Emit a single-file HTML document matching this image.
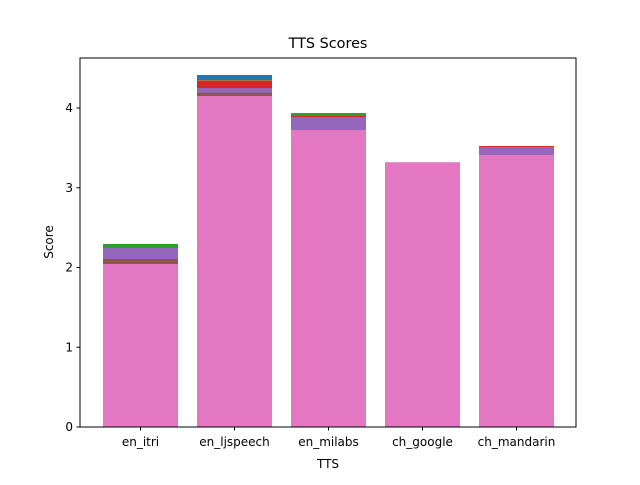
<!DOCTYPE html>
<html><head><meta charset="utf-8"><style>body{margin:0;background:#fff}svg{font-family:"DejaVu Sans","Liberation Sans",sans-serif}</style></head>
<body>
<svg id="c" width="640" height="480"></svg>
<script>
const categories=["en_itri","en_ljspeech","en_milabs","ch_google","ch_mandarin"];
const s_blue=[1.5,4.414,3.0,2.0,2.0];
const s_orange=[1.5,4.347,3.0,2.0,2.0];
const s_green=[2.295,3.0,3.937,2.0,2.0];
const s_red=[1.5,4.34,3.90,2.0,3.523];
const s_purple=[2.245,4.25,3.887,2.0,3.51];
const s_brown=[2.107,4.19,3.0,2.0,2.0];
const s_pink=[2.044,4.15,3.724,3.32,3.41];
const yTicks=[0,1,2,3,4];
const series=[s_blue,s_orange,s_green,s_red,s_purple,s_brown,s_pink];
const colors=["#1f77b4","#ff7f0e","#2ca02c","#d62728","#9467bd","#8c564b","#e377c2"];
const NS="http://www.w3.org/2000/svg",svg=document.getElementById("c");
function el(t,a){const e=document.createElementNS(NS,t);for(const k in a)e.setAttribute(k,a[k]);svg.appendChild(e);return e;}
const L=80,R=576,T=58,B=427;
const y=v=>B-v*79.75, x=i=>140.5+94*i, bw=75;
series.forEach((s,si)=>s.forEach((v,i)=>{const r=el("rect",{x:x(i)-bw/2,y:y(v),width:bw,height:B-y(v),fill:colors[si]});

}));
const f=el("rect",{x:L,y:T,width:R-L,height:B-T,fill:"none",stroke:"#000","stroke-width":1});


yTicks.forEach(v=>{el("line",{x1:L-3.5,x2:L,y1:y(v),y2:y(v),stroke:"#000"});
const t=el("text",{x:L-7,y:y(v)+4,"text-anchor":"end","font-size":12});t.textContent=v;

});
categories.forEach((c,i)=>{el("line",{x1:x(i),x2:x(i),y1:B,y2:B+3.5,stroke:"#000"});
const t=el("text",{x:x(i),y:B+19,"text-anchor":"middle","font-size":12});t.textContent=c;

});
const ti=el("text",{x:328,y:48,"text-anchor":"middle","font-size":14.4});ti.textContent="TTS Scores";


const xt=el("text",{x:328,y:468,"text-anchor":"middle","font-size":12});xt.textContent="TTS";


const yt=el("text",{x:0,y:0,"text-anchor":"middle","font-size":12,transform:"translate(53,242) rotate(-90)"});yt.textContent="Score";


</script>
</body></html>
